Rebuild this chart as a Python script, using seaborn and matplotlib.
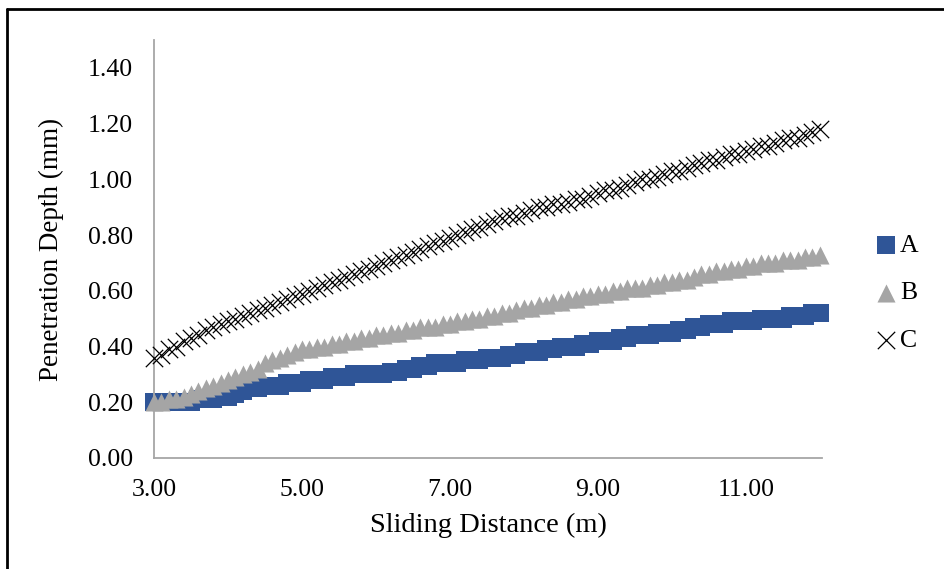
import numpy as np
import pandas as pd
import seaborn as sns
import matplotlib.pyplot as plt
from matplotlib.lines import Line2D
from matplotlib.ticker import FormatStrFormatter

# Sliding distance (m), one reading every 0.1 m
distance = np.round(np.arange(3.0, 12.05, 0.1), 1)

depth_a = [
    0.20, 0.20, 0.20, 0.20, 0.20, 0.20, 0.21, 0.21, 0.21, 0.22,
    0.22, 0.23, 0.24, 0.25, 0.25, 0.26, 0.26, 0.26, 0.27, 0.27,
    0.27, 0.28, 0.28, 0.28, 0.29, 0.29, 0.29, 0.30, 0.30, 0.30,
    0.30, 0.30, 0.31, 0.31, 0.32, 0.32, 0.33, 0.33, 0.34, 0.34,
    0.34, 0.34, 0.35, 0.35, 0.35, 0.36, 0.36, 0.36, 0.37, 0.37,
    0.38, 0.38, 0.38, 0.39, 0.39, 0.40, 0.40, 0.40, 0.41, 0.41,
    0.42, 0.42, 0.42, 0.43, 0.43, 0.44, 0.44, 0.44, 0.45, 0.45,
    0.45, 0.46, 0.46, 0.47, 0.47, 0.48, 0.48, 0.48, 0.49, 0.49,
    0.49, 0.49, 0.50, 0.50, 0.50, 0.50, 0.51, 0.51, 0.51, 0.52,
    0.52,
]
depth_b = [
    0.20, 0.20, 0.21, 0.21, 0.22, 0.23, 0.24, 0.25, 0.26, 0.27,
    0.28, 0.29, 0.30, 0.31, 0.32, 0.34, 0.35, 0.36, 0.37, 0.38,
    0.39, 0.39, 0.40, 0.40, 0.41, 0.41, 0.42, 0.42, 0.43, 0.43,
    0.44, 0.44, 0.45, 0.45, 0.46, 0.46, 0.47, 0.47, 0.47, 0.48,
    0.48, 0.49, 0.49, 0.50, 0.50, 0.51, 0.51, 0.52, 0.52, 0.53,
    0.54, 0.54, 0.55, 0.55, 0.56, 0.56, 0.57, 0.57, 0.58, 0.58,
    0.59, 0.59, 0.60, 0.60, 0.61, 0.61, 0.61, 0.62, 0.62, 0.63,
    0.63, 0.64, 0.64, 0.65, 0.66, 0.66, 0.67, 0.67, 0.68, 0.68,
    0.69, 0.69, 0.70, 0.70, 0.70, 0.71, 0.71, 0.71, 0.72, 0.72,
    0.73,
]
depth_c = [
    0.36, 0.37, 0.39, 0.40, 0.42, 0.43, 0.44, 0.46, 0.47, 0.48,
    0.49, 0.50, 0.51, 0.52, 0.53, 0.54, 0.55, 0.56, 0.57, 0.58,
    0.59, 0.60, 0.61, 0.62, 0.63, 0.64, 0.65, 0.66, 0.67, 0.68,
    0.69, 0.70, 0.71, 0.72, 0.73, 0.74, 0.75, 0.76, 0.77, 0.78,
    0.79, 0.80, 0.81, 0.82, 0.83, 0.84, 0.85, 0.86, 0.87, 0.87,
    0.88, 0.89, 0.90, 0.90, 0.91, 0.91, 0.92, 0.93, 0.93, 0.94,
    0.95, 0.96, 0.96, 0.97, 0.98, 0.99, 1.00, 1.00, 1.01, 1.02,
    1.03, 1.03, 1.04, 1.05, 1.06, 1.07, 1.07, 1.08, 1.09, 1.09,
    1.10, 1.11, 1.12, 1.12, 1.13, 1.14, 1.15, 1.15, 1.16, 1.17,
    1.18,
]

x_ticks = [3, 5, 7, 9, 11]
y_ticks = [0.0, 0.2, 0.4, 0.6, 0.8, 1.0, 1.2, 1.4]

sns.set_style("white")
plt.rcParams['font.family'] = ['Liberation Serif', 'DejaVu Serif']
plt.rcParams['text.color'] = 'black'
plt.rcParams['axes.labelcolor'] = 'black'

fig = plt.figure(figsize=(9.45, 5.69), dpi=100)
ax = fig.add_axes([154 / 945, 1 - 458 / 569, (822 - 154) / 945, (458 - 40) / 569])

# ------------------------ series ------------------------
sns.scatterplot(x=distance, y=depth_a, marker='s', s=13 ** 2, color='#2f5597',
                linewidth=0, label='A', ax=ax, clip_on=False, zorder=2)
sns.scatterplot(x=distance, y=depth_b, marker='^', s=13 ** 2, color='#a5a5a5',
                linewidth=0, label='B', ax=ax, clip_on=False, zorder=3)
sns.scatterplot(x=distance, y=depth_c, marker='x', s=12.5 ** 2, color='black',
                linewidth=0.9, label='C', ax=ax, clip_on=False, zorder=4)

# ------------------------ axes ------------------------
ax.set_xlim(3, 12.03)
ax.set_ylim(0, 1.5)
ax.set_xticks(x_ticks)
ax.set_yticks(y_ticks)
ax.xaxis.set_major_formatter(FormatStrFormatter('%.2f'))
ax.yaxis.set_major_formatter(FormatStrFormatter('%.2f'))
ax.tick_params(axis='both', length=0, labelsize=18.5, colors='black')
ax.tick_params(axis='x', pad=15)
ax.tick_params(axis='y', pad=15)

for side in ['top', 'right']:
    ax.spines[side].set_visible(False)
for side in ['left', 'bottom']:
    ax.spines[side].set_color('#a6a6a6')
    ax.spines[side].set_linewidth(1.3)

ax.set_xlabel("Sliding Distance (m)", fontsize=20.5, labelpad=9)
ax.set_ylabel("Penetration Depth (mm)", fontsize=19.5, labelpad=17)

ax.legend(loc='center left', bbox_to_anchor=(860 / 945, 1 - 293 / 569),
          bbox_transform=fig.transFigure, frameon=False, fontsize=18.5,
          handletextpad=-0.45, labelspacing=0.95, borderaxespad=0, borderpad=0)

# outer frame (cut off at right and bottom)
fig.add_artist(Line2D([7 / 945, 7 / 945], [0, 1 - 9 / 569], color='black', lw=2,
                      transform=fig.transFigure))
fig.add_artist(Line2D([7 / 945, 1], [1 - 9 / 569, 1 - 9 / 569], color='black', lw=2,
                      transform=fig.transFigure))

plt.savefig("out.png", dpi=100)
plt.close(fig)
